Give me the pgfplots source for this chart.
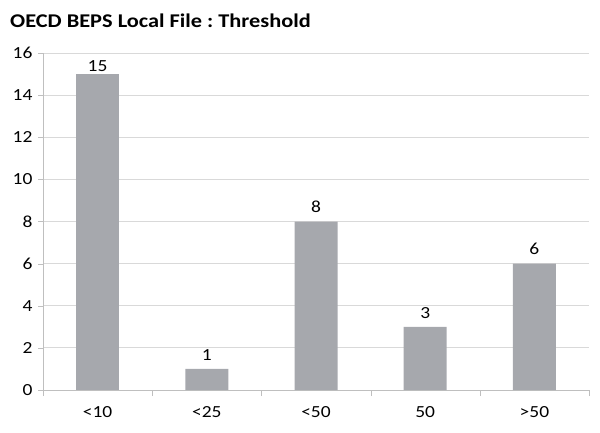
\documentclass[border=0pt]{standalone}
\usepackage{fontspec}
\setmainfont{Carlito}[FakeStretch=1.15]
\frenchspacing
\usepackage{pgfplots}
\pgfplotsset{compat=1.18}
\definecolor{barc}{HTML}{A6A8AD}
\definecolor{gridc}{HTML}{D9D9D9}
\definecolor{axc}{HTML}{BFBFBF}
\begin{document}
\begin{tikzpicture}[x=1bp,y=1bp]
\path[use as bounding box] (0,0) rectangle (600,432);
\node[anchor=base west,inner sep=0pt,font=\fontsize{19.5}{22}\selectfont\bfseries] at (10,404) {OECD BEPS Local File : Threshold};
\begin{axis}[
  at={(43bp,42bp)}, anchor=south west,
  scale only axis, width=546bp, height=337bp,
  xmin=-0.5, xmax=4.5, ymin=0, ymax=16,
  ytick={0,2,...,16},
  xtick={0,1,2,3,4},
  xticklabels={<10,<25,<50,50,>50},
  minor xtick={-0.5,0.5,1.5,2.5,3.5,4.5},
  major x tick style={draw=none},
  minor x tick style={draw=axc},
  tick align=outside,
  minor tick length=6bp,
  major tick length=5bp,
  y tick style={draw=axc},
  ymajorgrids, grid style={gridc, line width=0.8pt},
  axis x line*=bottom, axis y line*=left,
  axis line style={axc, line width=0.8pt, -},
  every tick label/.append style={font=\fontsize{17}{19}\selectfont, text=black},
  /pgf/number format/assume math mode=true,
  xticklabel style={yshift=-8bp},
  yticklabel style={xshift=-2bp},
  ybar, bar width=43bp, bar shift=0pt,
  nodes near coords,
  every node near coord/.append style={font=\fontsize{17}{19}\selectfont, text=black},
]
\addplot[fill=barc, draw=none, every node near coord/.append style={yshift=-1.5bp}] coordinates {(0,15)};
\addplot[fill=barc, draw=none, every node near coord/.append style={yshift=5bp}] coordinates {(1,1) (2,8) (3,3) (4,6)};
\end{axis}
\end{tikzpicture}
\end{document}
